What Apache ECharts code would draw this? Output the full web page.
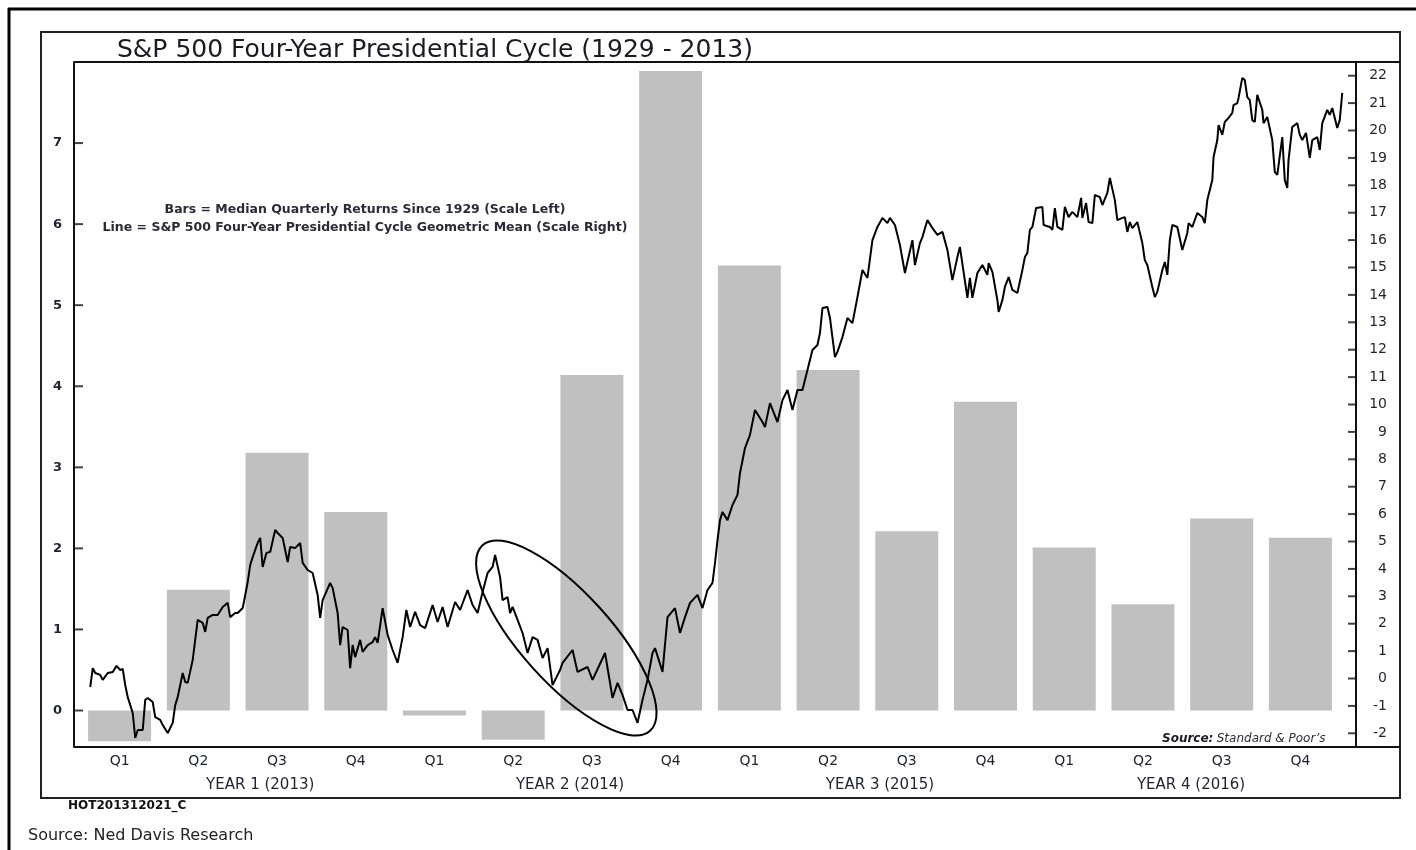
<!DOCTYPE html>
<html lang="en">
<head>
    <meta charset="UTF-8">
    <title>S&amp;P 500 Four-Year Presidential Cycle</title>
    <script type="text/javascript" src="https://cdn.jsdelivr.net/npm/echarts@6/dist/echarts.min.js"></script>
    <style>
        html, body { margin: 0; padding: 0; background: #fff; }
    </style>
</head>
<body>
    <div id="main" style="width: 1416px;height:850px;"></div>
    <script type="text/javascript">
        // quarter labels and year labels under the axis
        var quarterLabels = ['Q1', 'Q2', 'Q3', 'Q4', 'Q1', 'Q2', 'Q3', 'Q4', 'Q1', 'Q2', 'Q3', 'Q4', 'Q1', 'Q2', 'Q3', 'Q4'];
        var yearLabels = ['YEAR 1 (2013)', 'YEAR 2 (2014)', 'YEAR 3 (2015)', 'YEAR 4 (2016)'];
        // trading day where each label sits (63 days a quarter)
        var quarterDays = [31.5, 94.5, 157.5, 220.5, 283.5, 346.5, 409.5, 472.5, 535.5, 598.5, 661.5, 724.5, 787.5, 850.5, 913.5, 976.5];
        var yearDays = [144, 392, 640, 889];

        // bars = median quarterly returns since 1929 (left scale)
        var medianReturns = [-0.38, 1.49, 3.18, 2.45, -0.06, -0.36, 4.14, 7.89, 5.49, 4.20, 2.21, 3.81, 2.01, 1.31, 2.37, 2.13];

        // line = cycle geometric mean, [trading day, % change] (right scale)
        var cycleLine = [
            [8,-0.31],[10,0.38],[12,0.20],[16,0.13],[18,-0.05],[22,0.20],[26,0.24],[29,0.46],[32,0.31],[34,0.35],
            [36,-0.24],[38,-0.68],[42,-1.26],[44,-2.17],[46,-1.88],[50,-1.88],[52,-0.78],[54,-0.71],[58,-0.86],[60,-1.41],
            [64,-1.51],[66,-1.70],[70,-1.99],[74,-1.62],[76,-0.97],[78,-0.68],[82,0.20],[84,-0.13],[86,-0.16],[90,0.68],
            [94,2.14],[98,2.03],[100,1.70],[102,2.21],[106,2.32],[110,2.32],[114,2.61],[118,2.76],[120,2.24],[124,2.39],
            [126,2.39],[130,2.57],[131,2.79],[134,3.52],[136,4.14],[138,4.43],[142,4.95],[144,5.13],[146,4.07],[149,4.58],
            [152,4.62],[156,5.42],[158,5.31],[162,5.13],[166,4.25],[168,4.80],[172,4.76],[176,4.95],[178,4.22],[182,3.96],
            [186,3.85],[190,3.05],[192,2.21],[194,2.86],[200,3.49],[202,3.30],[206,2.39],[208,1.22],[210,1.88],[214,1.77],
            [216,0.38],[218,1.22],[220,0.78],[224,1.41],[226,0.97],[230,1.22],[234,1.33],[236,1.51],[238,1.30],[242,2.57],
            [246,1.59],[250,1.04],[254,0.57],[258,1.51],[261,2.50],[264,1.88],[268,2.43],[272,1.95],[276,1.84],[282,2.68],
            [286,2.06],[290,2.61],[294,1.88],[300,2.79],[304,2.50],[310,3.23],[314,2.68],[318,2.39],[322,3.16],[326,3.85],
            [330,4.07],[332,4.51],[336,3.70],[338,2.86],[342,2.97],[344,2.39],[346,2.61],[350,2.14],[354,1.66],[358,0.93],
            [362,1.51],[366,1.41],[370,0.75],[374,1.11],[378,-0.24],[384,0.31],[386,0.57],[394,1.04],[398,0.24],[406,0.42],
            [410,-0.05],[420,0.93],[426,-0.71],[430,-0.16],[434,-0.60],[438,-1.15],[442,-1.15],[446,-1.62],[450,-0.78],[454,-0.05],
            [458,0.93],[460,1.11],[466,0.24],[470,2.24],[476,2.57],[480,1.66],[484,2.24],[488,2.76],[494,3.05],[498,2.57],
            [502,3.23],[506,3.49],[508,4.22],[510,5.05],[512,5.78],[514,6.08],[518,5.78],[522,6.33],[526,6.70],[528,7.50],
            [532,8.41],[536,8.89],[540,9.80],[546,9.36],[548,9.18],[552,10.05],[558,9.36],[562,10.16],[566,10.53],[570,9.80],
            [574,10.53],[578,10.53],[582,11.26],[586,11.99],[590,12.17],[592,12.61],[594,13.52],[598,13.56],[600,13.16],[604,11.73],
            [606,11.92],[610,12.46],[614,13.16],[618,12.97],[622,13.92],[626,14.91],[630,14.62],[634,16.00],[638,16.48],[642,16.81],
            [646,16.62],[648,16.81],[652,16.55],[656,15.82],[660,14.80],[666,16.00],[668,15.09],[672,15.89],[674,16.11],[678,16.73],
            [682,16.44],[686,16.19],[690,16.30],[694,15.64],[698,14.54],[702,15.38],[704,15.75],[710,13.89],[712,14.62],[714,13.89],
            [718,14.80],[722,15.09],[726,14.73],[727,15.16],[730,14.84],[734,13.81],[735,13.38],[738,13.81],[740,14.29],[743,14.65],
            [746,14.18],[750,14.07],[754,14.91],[756,15.38],[758,15.53],[760,16.37],[762,16.48],[765,17.17],[770,17.21],[771,16.55],
            [776,16.48],[778,16.37],[780,17.17],[782,16.48],[786,16.37],[788,17.21],[791,16.84],[794,17.03],[798,16.84],[801,17.54],
            [802,16.81],[805,17.35],[807,16.66],[810,16.62],[812,17.65],[816,17.57],[818,17.28],[822,17.72],[824,18.27],[828,17.46],
            [830,16.73],[834,16.81],[836,16.84],[838,16.30],[840,16.66],[842,16.44],[846,16.66],[850,15.89],[852,15.27],[854,15.09],
            [858,14.29],[860,13.92],[862,14.11],[866,14.91],[868,15.20],[870,14.73],[872,16.00],[874,16.55],[878,16.48],[882,15.64],
            [886,16.26],[887,16.62],[890,16.48],[894,16.99],[898,16.84],[900,16.62],[902,17.46],[906,18.19],[907,19.03],[910,19.65],
            [911,20.20],[914,19.84],[916,20.31],[919,20.46],[922,20.64],[923,20.93],[926,21.00],[927,21.19],[930,21.92],[932,21.84],
            [934,21.22],[936,21.11],[938,20.38],[940,20.31],[942,21.30],[946,20.75],[947,20.27],[950,20.49],[954,19.65],[956,18.49],
            [958,18.38],[962,19.76],[964,18.19],[966,17.90],[967,18.92],[970,20.13],[974,20.27],[976,19.84],[978,19.65],[981,19.91],
            [984,19.00],[986,19.65],[990,19.76],[992,19.29],[994,20.27],[998,20.75],[1000,20.57],[1002,20.82],[1006,20.09],[1008,20.38],
            [1010,21.37]
        ];

        // tick values on both scales
        var leftTicks = [0, 1, 2, 3, 4, 5, 6, 7];
        var rightTicks = [-2, -1, 0, 1, 2, 3, 4, 5, 6, 7, 8, 9, 10, 11, 12, 13, 14, 15, 16, 17, 18, 19, 20, 21, 22];

        // the circled stretch in year 2: [day, right-scale value]
        var circledCenter = [389, 1.48];

        var xMin = -5, xMax = 1021;
        var textFont = '"DejaVu Sans", Verdana, sans-serif';
        var labelColor = '#1e2233';

        var myChart = echarts.init(document.getElementById('main'));

        var barData = quarterDays.map(function (d, i) { return [d, medianReturns[i]]; });
        // tick marks drawn at the axis edges, pointing into the plot
        var leftTickData = leftTicks.map(function (v) { return [xMin, v]; });
        var rightTickData = rightTicks.map(function (v) { return [xMax, v]; });

        var option = {
            animation: false,
            backgroundColor: '#fff',
            title: {
                text: 'S&P 500 Four-Year Presidential Cycle (1929 - 2013)',
                left: 112,
                top: 33,
                textStyle: { fontFamily: textFont, fontSize: 25, fontWeight: 'normal', color: '#1a1a24' }
            },
            grid: { left: 74, right: 60, top: 62, bottom: 103 },
            xAxis: [{
                type: 'value',
                min: xMin,
                max: xMax,
                axisLine: { show: false },
                axisTick: { show: false },
                splitLine: { show: false },
                axisLabel: {
                    customValues: quarterDays,
                    formatter: function (v) { return quarterLabels[quarterDays.indexOf(v)] || ''; },
                    margin: 7,
                    fontFamily: textFont, fontSize: 14, color: labelColor
                }
            }, {
                type: 'value',
                position: 'bottom',
                offset: 25,
                min: xMin,
                max: xMax,
                axisLine: { show: false },
                axisTick: { show: false },
                splitLine: { show: false },
                axisLabel: {
                    customValues: yearDays,
                    formatter: function (v) { return yearLabels[yearDays.indexOf(v)] || ''; },
                    margin: 6,
                    fontFamily: textFont, fontSize: 15, color: labelColor
                }
            }],
            yAxis: [{
                type: 'value',
                position: 'left',
                min: -0.45,
                max: 8,
                splitLine: { show: false },
                axisLine: { show: true, onZero: false, lineStyle: { color: '#111', width: 2 } },
                axisTick: { show: false },
                axisLabel: { customValues: leftTicks, margin: 12, fontFamily: textFont, fontSize: 13, fontWeight: 'bold', color: labelColor }
            }, {
                type: 'value',
                position: 'right',
                min: -2.5,
                max: 22.5,
                splitLine: { show: false },
                axisLine: { show: true, onZero: false, lineStyle: { color: '#111', width: 2 } },
                axisTick: { show: false },
                axisLabel: { customValues: rightTicks, margin: 31, align: 'right', fontFamily: textFont, fontSize: 14, color: labelColor }
            }],
            series: [{
                name: 'Median Quarterly Returns',
                type: 'bar',
                xAxisIndex: 0,
                yAxisIndex: 0,
                barWidth: 63,
                itemStyle: { color: '#c0c0c0' },
                data: barData,
                z: 2
            }, {
                name: 'Geometric Mean',
                type: 'line',
                xAxisIndex: 0,
                yAxisIndex: 1,
                showSymbol: false,
                lineStyle: { color: '#000', width: 2 },
                data: cycleLine,
                z: 3
            }, {
                name: 'left ticks',
                type: 'scatter',
                xAxisIndex: 0,
                yAxisIndex: 0,
                clip: false,
                silent: true,
                symbol: 'rect',
                symbolSize: [9, 2],
                symbolOffset: [4.5, 0],
                itemStyle: { color: '#111' },
                data: leftTickData,
                z: 4
            }, {
                name: 'right ticks',
                type: 'scatter',
                xAxisIndex: 0,
                yAxisIndex: 1,
                clip: false,
                silent: true,
                symbol: 'rect',
                symbolSize: [8, 2],
                symbolOffset: [-4, 0],
                itemStyle: { color: '#111' },
                data: rightTickData,
                z: 4
            }]
        };

        myChart.setOption(option);

        // frames, notes and the ellipse drawn on top
        var c = myChart.convertToPixel({ xAxisIndex: 0, yAxisIndex: 1 }, circledCenter);
        myChart.setOption({
            graphic: [
                { type: 'line', shape: { x1: 8, y1: 9, x2: 1416, y2: 9 }, style: { stroke: '#000', lineWidth: 3 } },
                { type: 'line', shape: { x1: 9, y1: 8, x2: 9, y2: 850 }, style: { stroke: '#000', lineWidth: 3 } },
                { type: 'rect', shape: { x: 41, y: 32, width: 1359, height: 766 }, style: { fill: null, stroke: '#222', lineWidth: 2 } },
                { type: 'line', shape: { x1: 74, y1: 62, x2: 1400, y2: 62 }, style: { stroke: '#111', lineWidth: 2 } },
                { type: 'line', shape: { x1: 74, y1: 747, x2: 1400, y2: 747 }, style: { stroke: '#111', lineWidth: 2 } },
                {
                    type: 'text', x: 365, y: 210,
                    style: { text: 'Bars = Median Quarterly Returns Since 1929 (Scale Left)', textAlign: 'center', textVerticalAlign: 'middle',
                        font: 'bold 12.5px ' + textFont, fill: '#2a2a3a' }
                },
                {
                    type: 'text', x: 365, y: 228,
                    style: { text: 'Line = S&P 500 Four-Year Presidential Cycle Geometric Mean (Scale Right)', textAlign: 'center', textVerticalAlign: 'middle',
                        font: 'bold 12.5px ' + textFont, fill: '#2a2a3a' }
                },
                {
                    type: 'text', x: 1162, y: 739,
                    style: {
                        text: '{b|Source:} {i|Standard & Poor\u2019s}', textVerticalAlign: 'middle',
                        rich: {
                            b: { font: 'italic bold 12px ' + textFont, fill: '#1a1a24' },
                            i: { font: 'italic 12px ' + textFont, fill: '#2a2a3a' }
                        }
                    }
                },
                {
                    type: 'text', x: 68, y: 806,
                    style: { text: 'HOT201312021_C', textVerticalAlign: 'middle', font: 'bold 12px ' + textFont, fill: '#111' }
                },
                {
                    type: 'text', x: 28, y: 836,
                    style: { text: 'Source: Ned Davis Research', textVerticalAlign: 'middle', font: '16px ' + textFont, fill: '#222' }
                },
                {
                    type: 'ellipse', x: c[0], y: c[1], rotation: -0.836, z: 100,
                    shape: { cx: 0, cy: 0, rx: 125, ry: 45 },
                    style: { fill: null, stroke: '#000', lineWidth: 2 }
                }
            ]
        });
    </script>
</body>
</html>
